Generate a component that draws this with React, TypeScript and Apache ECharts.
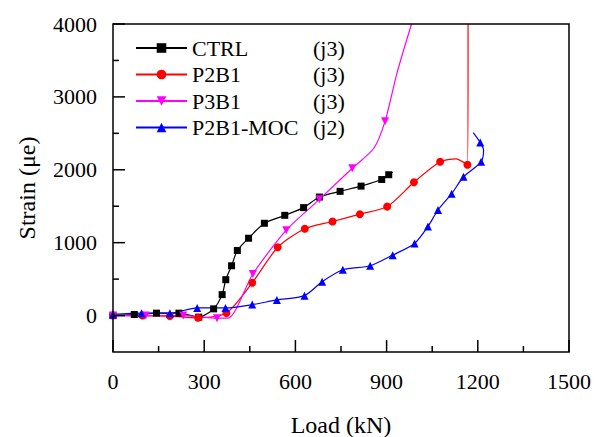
import React, { useEffect, useRef } from "react";
import * as echarts from "echarts";

const FONT = "Liberation Serif";

const seriesNames = ["CTRL", "P2B1", "P3B1", "P2B1-MOC"];
const joints = ["(j3)", "(j3)", "(j3)", "(j2)"];
const colors = ["#000000", "#ff0000", "#ff00ff", "#0000ff"];
const symbols = ["rect", "circle", "triangle", "triangle"];

const xMin = 0;
const xMax = 1500;
const yMin = -500;
const yMax = 4000;
const xMajorTicks = [0, 300, 600, 900, 1200, 1500];
const xMinorTicks = [150, 450, 750, 1050, 1350];
const yMajorTicks = [0, 1000, 2000, 3000, 4000];
const yMinorTicks = [500, 1500, 2500, 3500];
const xTitle = "Load (kN)";
const yTitle = "Strain (μe)";

const ctrlLoad = [0, 70, 143, 217, 282, 331, 359, 371, 390, 409, 446, 498, 565, 627, 679, 747, 816, 884, 907, 920];
const ctrlStrain = [0, 14, 33, 33, -22, 92, 287, 492, 683, 893, 1061, 1266, 1375, 1481, 1626, 1704, 1776, 1867, 1932, 1967];
const ctrlPlain = [19];
const p2b1Load = [0, 97, 187, 280, 373, 458, 542, 631, 722, 812, 902, 990, 1076, 1128, 1166, 1168];
const p2b1Strain = [0, 0, -8, -31, 36, 450, 937, 1192, 1290, 1391, 1495, 1828, 2109, 2150, 2068, 4000];
const p2b1Plain = [13, 15];
const p3b1Load = [0, 108, 231, 342, 378, 460, 570, 679, 787, 858, 895, 935, 982];
const p3b1Strain = [0, 0, 0, -36, -36, 570, 1171, 1594, 2021, 2295, 2667, 3340, 4000];
const p3b1Plain = [4, 9, 11, 12];
const mocLoad = [0, 94, 187, 277, 370, 458, 539, 630, 688, 756, 846, 920, 992, 1036, 1069, 1114, 1153, 1211, 1219, 1208, 1185];
const mocStrain = [15, 33, 33, 105, 105, 150, 214, 273, 464, 628, 683, 829, 989, 1221, 1448, 1672, 1904, 2109, 2270, 2374, 2510];
const mocPlain = [18, 20];

function build(xs: number[], ys: number[], plain: number[]) {
  return xs.map((x, i) => (plain.includes(i) ? { value: [x, ys[i]], symbol: "none" } : { value: [x, ys[i]] }));
}
const seriesData = [
  build(ctrlLoad, ctrlStrain, ctrlPlain),
  build(p2b1Load, p2b1Strain, p2b1Plain),
  build(p3b1Load, p3b1Strain, p3b1Plain),
  build(mocLoad, mocStrain, mocPlain),
];

const W = 594;
const H = 437;

function makeOption() {
  return {
    animation: false,
    grid: { left: 113, right: 25, top: 24, bottom: 85, containLabel: false, outerBoundsMode: "none" },
    legend: {
      orient: "vertical",
      left: 135,
      top: 37,
      padding: 0,
      itemGap: 4.5,
      itemWidth: 51,
      itemHeight: 12,
      data: seriesNames,
      formatter: (name: string) => `{n|${name}}{j|${joints[seriesNames.indexOf(name)]}}`,
      textStyle: { fontFamily: FONT, fontSize: 22, color: "#000", rich: { n: { width: 121 }, j: {} } },
    },
    xAxis: {
      type: "value",
      min: xMin,
      max: xMax,
      interval: 300,
      axisLine: { show: false },
      axisTick: { show: false },
      axisLabel: { show: false },
      splitLine: { show: false },
    },
    yAxis: {
      type: "value",
      min: yMin,
      max: yMax,
      interval: 500,
      axisLine: { show: false },
      axisTick: { show: false },
      axisLabel: { show: false },
      splitLine: { show: false },
    },
    series: seriesNames.map((name, i) => ({
      name,
      type: "line",
      data: seriesData[i],
      smooth: 0.25,
      clip: true,
      symbol: symbols[i],
      symbolSize: i === 0 ? 7 : 8,
      symbolRotate: i === 2 ? 180 : 0,
      showAllSymbol: true,
      color: colors[i],
      lineStyle: { color: colors[i], width: 1.2 },
      itemStyle: { color: colors[i] },
    })),
  };
}

export default function App() {
  const ref = useRef<HTMLDivElement>(null);
  useEffect(() => {
    if (!ref.current) return;
    const chart = echarts.init(ref.current, null, { renderer: "svg" });
    chart.setOption(makeOption());

    const px = (v: number) => chart.convertToPixel({ xAxisIndex: 0 } as any, v) as unknown as number;
    const py = (v: number) => chart.convertToPixel({ yAxisIndex: 0 } as any, v) as unknown as number;
    const x0 = px(xMin);
    const x1 = px(xMax);
    const y0 = py(yMin);
    const y1 = py(yMax);

    const stroke = { stroke: "#000", lineWidth: 1.5 };
    const line = (xa: number, ya: number, xb: number, yb: number) => ({
      type: "line",
      z: 100,
      silent: true,
      shape: { x1: xa, y1: ya, x2: xb, y2: yb },
      style: stroke,
    });
    const text = (t: string, x: number, y: number, size: number, align: string, vAlign: string, rotation = 0) => ({
      type: "text",
      z: 100,
      silent: true,
      x,
      y,
      rotation,
      style: {
        text: t,
        fontFamily: FONT,
        fontSize: size,
        fill: "#000",
        align,
        verticalAlign: vAlign,
      },
    });

    const els: any[] = [];
    els.push({
      type: "rect",
      z: 100,
      silent: true,
      shape: { x: x0, y: y1, width: x1 - x0, height: y0 - y1 },
      style: { fill: "transparent", stroke: "#000", lineWidth: 1.5 },
    });
    xMajorTicks.forEach((v) => els.push(line(px(v), y0, px(v), y0 - 12)));
    xMinorTicks.forEach((v) => els.push(line(px(v), y0, px(v), y0 - 6)));
    yMajorTicks.forEach((v) => els.push(line(x0, py(v), x0 + 12, py(v))));
    yMinorTicks.forEach((v) => els.push(line(x0, py(v), x0 + 6, py(v))));
    xMajorTicks.forEach((v) => els.push(text(String(v), px(v), y0 + 18, 22, "center", "top")));
    yMajorTicks.forEach((v) => els.push(text(String(v), x0 - 16, py(v), 22, "right", "middle")));
    els.push(text(xTitle, (x0 + x1) / 2, 425, 24, "center", "middle"));
    els.push(text(yTitle, 27, (y0 + y1) / 2, 24, "center", "middle", Math.PI / 2));

    chart.setOption({ graphic: els });
    return () => chart.dispose();
  }, []);
  return (
    <div style={{ position: "fixed", left: 0, top: 0, width: W, height: H, background: "#fff" }}>
      <div ref={ref} style={{ width: W, height: H }} />
    </div>
  );
}
